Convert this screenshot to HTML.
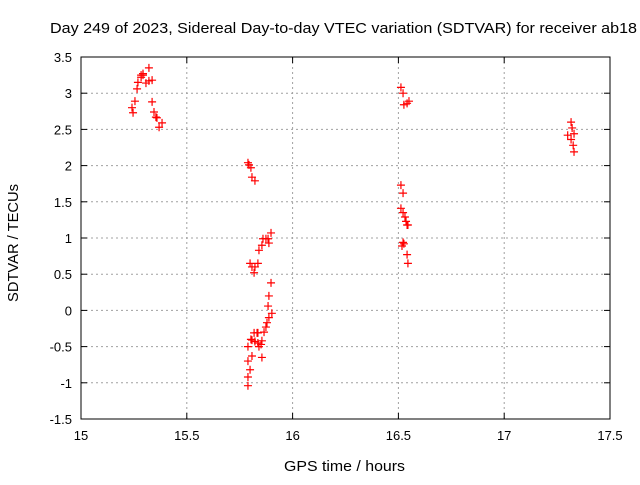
<!DOCTYPE html>
<html><head><meta charset="utf-8"><style>
body{margin:0;background:#fff;}
svg text{font-family:"Liberation Sans",sans-serif;font-size:13px;fill:#000;}
</style></head><body>
<svg id="chart" width="640" height="480">
<text x="50" y="33" textLength="587" lengthAdjust="spacingAndGlyphs" style="font-size:15px">Day 249 of 2023, Sidereal Day-to-day VTEC variation (SDTVAR) for receiver ab18</text>
<text x="284" y="471" textLength="121" lengthAdjust="spacingAndGlyphs" style="font-size:15px">GPS time / hours</text>
<text transform="translate(18,302) rotate(-90)" textLength="118" lengthAdjust="spacingAndGlyphs" style="font-size:15px">SDTVAR / TECUs</text>
<g id="grid"></g><g id="ticks"></g><g id="marks"></g>
<rect x="81" y="57" width="529" height="362" fill="none" stroke="#000" stroke-width="1"/>
</svg>
<script>
const xTicks=[15,15.5,16,16.5,17,17.5];
const xTickLabels=["15","15.5","16","16.5","17","17.5"];
const yTicks=[-1.5,-1,-0.5,0,0.5,1,1.5,2,2.5,3,3.5];
const yTickLabels=["-1.5","-1","-0.5","0","0.5","1","1.5","2","2.5","3","3.5"];
const times=[15.321,15.284,15.293,15.284,15.293,15.269,15.265,15.307,15.321,15.336,15.255,15.336,15.241,15.246,15.345,15.354,15.359,15.383,15.369,
15.789,15.794,15.803,15.808,15.822,15.898,15.860,15.874,15.884,15.888,15.855,15.841,15.799,15.836,15.808,15.822,15.818,15.898,15.888,15.884,15.888,15.902,15.879,15.874,15.865,15.818,15.832,15.836,15.803,15.808,15.855,15.822,15.836,15.851,15.789,15.841,15.808,15.855,15.789,15.799,15.789,15.789,
16.512,16.522,16.550,16.541,16.526,16.512,16.522,16.512,16.522,16.531,16.536,16.545,16.541,16.522,16.526,16.517,16.541,16.545,
17.316,17.321,17.330,17.300,17.316,17.326,17.330];
const sdtvar=[3.35,3.25,3.27,3.22,3.25,3.15,3.06,3.14,3.17,3.18,2.89,2.88,2.80,2.73,2.74,2.67,2.66,2.59,2.53,
2.04,2.01,1.97,1.84,1.79,1.07,0.99,0.99,0.99,0.93,0.90,0.83,0.65,0.65,0.60,0.60,0.52,0.38,0.20,0.06,-0.10,-0.04,-0.17,-0.23,-0.30,-0.31,-0.31,-0.31,-0.40,-0.41,-0.42,-0.43,-0.45,-0.47,-0.50,-0.50,-0.63,-0.65,-0.70,-0.82,-0.92,-1.04,
3.08,3.00,2.89,2.86,2.84,1.73,1.62,1.41,1.35,1.29,1.23,1.18,1.18,0.94,0.92,0.89,0.77,0.65,
2.60,2.52,2.44,2.42,2.36,2.28,2.19];
const X0=81,X1=610,Y0=419,Y1=57;
const xs=v=>X0+(v-15)/2.5*(X1-X0);
const ys=v=>Y0-(v+1.5)/5*(Y0-Y1);
const NS="http://www.w3.org/2000/svg";
const grid=document.getElementById('grid'),ticks=document.getElementById('ticks'),marks=document.getElementById('marks');
function mk(tag,attrs,parent){const e=document.createElementNS(NS,tag);for(const k in attrs)e.setAttribute(k,attrs[k]);parent.appendChild(e);return e;}
xTicks.forEach((t,i)=>{const x=xs(t);
 if(i>0&&i<xTicks.length-1){const g=mk('line',{x1:x,x2:x,y1:Y1,y2:Y0,stroke:'#a0a0a0','stroke-dasharray':'2,3'},grid);
 
 }
 mk('line',{x1:x,x2:x,y1:Y0,y2:Y0-6,stroke:'#000'},ticks);mk('line',{x1:x,x2:x,y1:Y1,y2:Y1+6,stroke:'#000'},ticks);
 const l=mk('text',{x:x,y:Y0+21,'text-anchor':'middle'},ticks);l.textContent=xTickLabels[i];
 
 });
yTicks.forEach((t,i)=>{const y=ys(t);
 if(i>0&&i<yTicks.length-1){const g=mk('line',{x1:X0,x2:X1,y1:y,y2:y,stroke:'#a0a0a0','stroke-dasharray':'2,3'},grid);
 
 }
 mk('line',{x1:X0,x2:X0+6,y1:y,y2:y,stroke:'#000'},ticks);mk('line',{x1:X1,x2:X1-6,y1:y,y2:y,stroke:'#000'},ticks);
 const l=mk('text',{x:X0-9,y:y+5,'text-anchor':'end'},ticks);l.textContent=yTickLabels[i];
 
 });
times.forEach((t,i)=>{const x=xs(t),y=ys(sdtvar[i]);
 const p=mk('path',{d:`M${x-4},${y}H${x+4}M${x},${y-4}V${y+4}`,stroke:'#f00','stroke-width':1.2,fill:'none'},marks);
 
 });
</script>
</body></html>
